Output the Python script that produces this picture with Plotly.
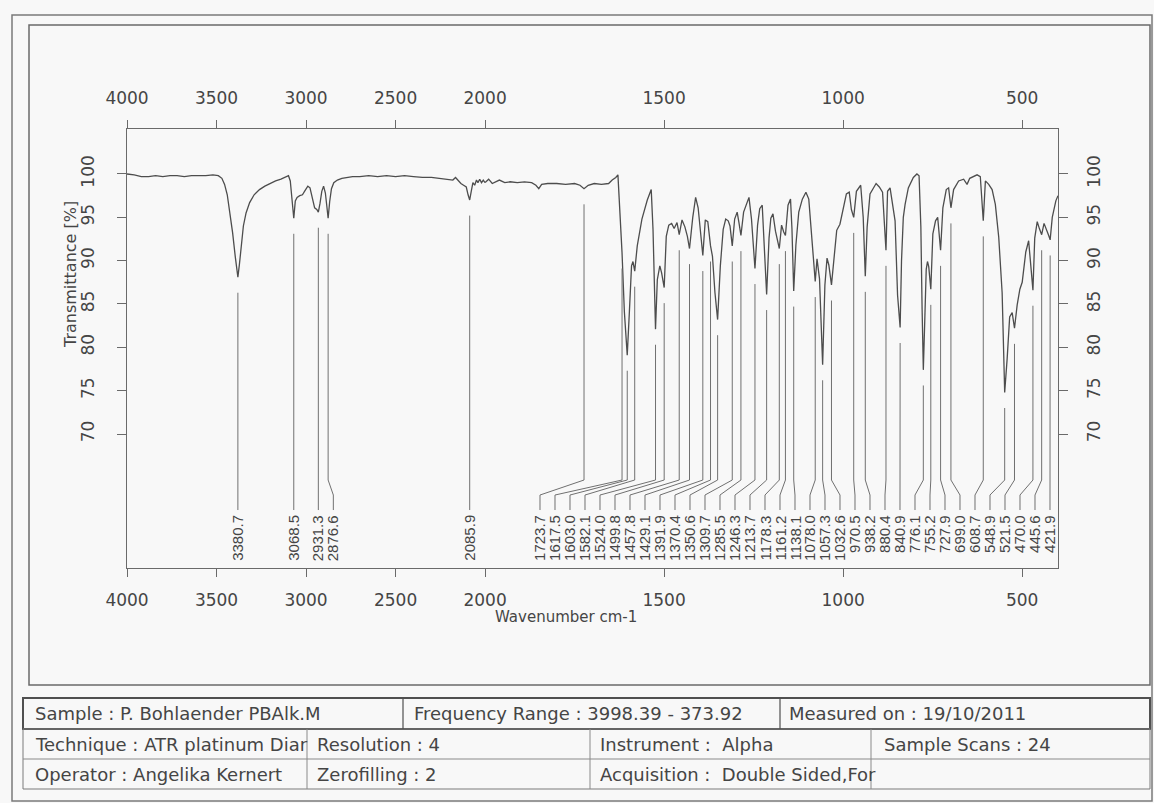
import plotly.graph_objects as go

# ---------------- data ----------------
wavenumber = [
    4000, 3960, 3920, 3880, 3840, 3800, 3760, 3720, 3680, 3640, 3600, 3560, 3520, 3490,
    3470, 3455, 3440, 3425, 3410, 3395, 3380.7, 3372, 3362, 3350, 3335, 3315, 3290, 3260,
    3230, 3200, 3170, 3140, 3115, 3098, 3088, 3078, 3068.5, 3060, 3050, 3035, 3020, 3005,
    2990, 2978, 2965, 2952, 2940, 2931.3, 2922, 2912, 2902, 2892, 2884, 2876.6, 2868, 2858,
    2845, 2825, 2800, 2770, 2740, 2700, 2650, 2600, 2550, 2500, 2450, 2400, 2350, 2300,
    2260, 2230, 2200, 2180, 2165, 2150, 2135, 2120, 2105, 2095, 2085.9, 2078, 2068, 2058,
    2048, 2040, 2030, 2020, 2010, 2000,
    1990, 1980, 1970, 1960, 1945, 1930, 1910, 1890, 1870, 1858, 1850, 1842, 1825, 1800,
    1775, 1750, 1735, 1723.7, 1712, 1695, 1675, 1655, 1645, 1635, 1629, 1624, 1617.5, 1611,
    1603.0, 1597, 1591, 1587, 1582.1, 1575, 1562, 1547, 1536, 1531, 1524.0, 1519, 1512, 1507,
    1499.8, 1494, 1487, 1479, 1472, 1464, 1457.8, 1450, 1442, 1435, 1429.1, 1420, 1412, 1405,
    1399, 1391.9, 1385, 1378, 1370.4, 1365, 1358, 1350.6, 1343, 1335, 1328, 1321, 1316, 1309.7,
    1303, 1296, 1291, 1285.5, 1278, 1271, 1263, 1256, 1246.3, 1239, 1233, 1226, 1220, 1213.7,
    1207, 1202, 1196, 1189, 1178.3, 1172, 1166, 1161.2, 1154, 1147, 1143, 1138.1, 1132, 1124,
    1114, 1104, 1096, 1090, 1084, 1078.0, 1073, 1066, 1057.3, 1051, 1045, 1040, 1032.6, 1025,
    1018, 1009, 1000, 991, 983, 977, 970.5, 963, 951, 944, 938.2, 933, 925, 908,
    899, 890, 880.4, 876, 869, 861, 855, 848, 840.9, 837, 832, 827, 818, 804,
    794, 788, 783, 779.5, 776.1, 772.5, 768, 764.5, 761, 755.2, 749.5, 742, 736, 727.9,
    721.5, 712, 705.5, 699.0, 691.5, 677.5, 663.5, 654, 646.5, 626, 617, 608.7, 602.8, 593.5,
    584, 575, 565.5, 556, 548.9, 542, 535, 528, 521.5, 514, 506.5, 500, 490, 482,
    476, 470.0, 465, 458, 452, 445.6, 439, 432, 426, 421.9, 416, 406, 400,
]
transmittance = [
    100.0, 99.9, 99.7, 99.7, 99.8, 99.7, 99.8, 99.8, 99.7, 99.8, 99.8, 99.8, 99.9, 99.8,
    99.5, 98.8, 97.6, 95.6, 93.2, 90.4, 88.1, 89.6, 92.0, 94.0, 95.5, 96.7, 97.6, 98.2,
    98.6, 98.9, 99.2, 99.4, 99.6, 99.8, 99.2, 97.2, 94.9, 96.9, 97.3, 97.5, 97.6, 98.1,
    98.6, 98.4, 97.3, 96.1, 95.9, 95.6, 96.6, 98.0, 98.6, 97.8, 96.3, 94.9, 96.8, 98.3,
    99.0, 99.3, 99.5, 99.6, 99.7, 99.7, 99.8, 99.7, 99.8, 99.7, 99.8, 99.7, 99.6, 99.6,
    99.5, 99.4, 99.4, 99.3, 99.6, 99.2, 98.9, 98.7, 98.5, 97.6, 97.0, 97.9, 99.0, 98.7,
    99.3, 99.0, 99.4, 99.0, 99.3, 99.0,
    99.4, 98.9, 99.1, 99.3, 99.0, 99.1, 99.0, 99.1, 99.0, 98.7, 98.3, 98.8, 98.9, 98.9,
    98.8, 98.9, 98.7, 98.3, 98.7, 98.9, 98.8, 98.9, 99.3, 99.6, 99.9, 96.3, 90.9, 84.1,
    79.1, 84.1, 89.4, 89.9, 88.8, 91.7, 94.8, 97.0, 98.2, 93.6, 82.1, 87.8, 89.4, 88.6,
    86.9, 92.8, 94.1, 94.3, 93.7, 94.4, 93.0, 94.7, 93.9, 92.8, 91.4, 95.0, 97.3, 96.1,
    93.5, 90.6, 94.7, 94.5, 91.7, 90.5, 86.3, 83.2, 89.4, 93.6, 94.8, 94.6, 94.0, 91.7,
    94.8, 95.6, 94.4, 92.9, 95.6, 96.3, 97.3, 94.8, 89.1, 94.1, 96.0, 96.4, 91.0, 86.1,
    92.6, 94.9, 95.4, 93.4, 91.4, 94.1, 93.3, 92.9, 96.4, 97.1, 93.7, 86.5, 91.8, 95.6,
    97.1, 97.9, 97.1, 93.7, 91.0, 87.6, 90.2, 87.9, 78.0, 87.2, 90.3, 89.5, 87.2, 91.0,
    93.5, 94.2, 95.8, 97.7, 97.9, 95.9, 95.0, 98.0, 98.7, 95.0, 88.2, 93.9, 97.7, 98.9,
    98.5, 97.9, 91.2, 98.0, 98.4, 96.5, 94.6, 86.0, 82.3, 90.0, 95.0, 96.5, 98.4, 99.6,
    100.0, 99.8, 93.9, 84.4, 77.4, 82.5, 89.0, 89.9, 89.3, 86.7, 93.1, 94.6, 95.0, 91.2,
    96.1, 98.2, 98.4, 96.1, 98.2, 99.2, 99.4, 98.8, 99.5, 99.9, 99.7, 94.6, 99.2, 98.8,
    98.2, 96.5, 92.7, 86.3, 74.8, 78.7, 83.5, 84.0, 82.2, 84.9, 86.7, 87.5, 91.0, 92.3,
    89.5, 86.6, 92.6, 94.5, 93.7, 93.0, 94.3, 93.4, 92.9, 92.4, 95.0, 96.9, 97.5,
]
peaks = [
    3380.7, 3068.5, 2931.3, 2876.6, 2085.9, 1723.7, 1617.5, 1603.0, 1582.1, 1524.0,
    1499.8, 1457.8, 1429.1, 1391.9, 1370.4, 1350.6, 1309.7, 1285.5, 1246.3, 1213.7,
    1178.3, 1161.2, 1138.1, 1078.0, 1057.3, 1032.6, 970.5, 938.2, 880.4, 840.9,
    776.1, 755.2, 727.9, 699.0, 608.7, 548.9, 521.5, 470.0, 445.6, 421.9,
]
x_ticks_high = [4000, 3500, 3000, 2500, 2000]
x_ticks_low = [1500, 1000, 500]
y_ticks = [70, 75, 80, 85, 90, 95, 100]

table_rows = [
    [("Sample : P. Bohlaender PBAlk.M", 33), ("Frequency Range : 3998.39 - 373.92", 412),
     ("Measured on : 19/10/2011", 787)],
    [("Technique : ATR platinum Diar", 33), ("Resolution : 4", 315),
     ("Instrument :  Alpha", 598), ("Sample Scans : 24", 882)],
    [("Operator : Angelika Kernert", 33), ("Zerofilling : 2", 315),
     ("Acquisition :  Double Sided,For", 598)],
]

# ---------------- layout constants ----------------
W, H = 1154, 803
PL, PR, PT, PB = 127, 1058, 129, 568          # plot area in pixels
XMAX, XBREAK, XMIN = 4000, 2000, 400
HIGH_COMPRESS = 2.0                          # region above 2000 drawn at half scale
YMIN, YMAX = 54.54, 105.19
span_hi = (XMAX - XBREAK) / HIGH_COMPRESS
span_lo = XBREAK - XMIN
f_break = span_hi / (span_hi + span_lo)
px_per_u = (PR - PL) / (span_hi + span_lo)

LINE = "#4d4d4d"
AX = "#6a6a6a"
TXT = "#454545"
BG = "#f8f8f8"
FONT = "DejaVu Sans"


def px2paper_x(px):
    return (px - PL) / (PR - PL)


def px2paper_y(py):
    return (PB - py) / (PB - PT)


def u_of(w):
    return (XMAX - w) / HIGH_COMPRESS if w >= XBREAK else span_hi + (XBREAK - w)


def w_of(u):
    return XMAX - HIGH_COMPRESS * u if u <= span_hi else XBREAK - (u - span_hi)


# ---------------- traces ----------------
fig = go.Figure()
hi = [(w, t) for w, t in zip(wavenumber, transmittance) if w >= XBREAK]
lo = [(w, t) for w, t in zip(wavenumber, transmittance) if w <= XBREAK]
for pts, xa in ((hi, "x"), (lo, "x2")):
    fig.add_trace(go.Scatter(x=[p[0] for p in pts], y=[p[1] for p in pts], xaxis=xa, yaxis="y",
                             mode="lines", line=dict(color=LINE, width=1.3),
                             showlegend=False, hoverinfo="skip"))

# peak label layout: push right, then clamp to right bound
spacing_u = 15 / px_per_u
right_bound_u = (span_hi + span_lo) - 8 / px_per_u
u_true = [u_of(p) for p in peaks]
pos = []
for u in u_true:
    pos.append(u if not pos else max(u, pos[-1] + spacing_u))
pos[-1] = min(pos[-1], right_bound_u)
for i in range(len(pos) - 2, -1, -1):
    pos[i] = min(pos[i], pos[i + 1] - spacing_u)

T_at = dict(zip(wavenumber, transmittance))
GAP = 1.8
Y_A, Y_B, Y_C, Y_TXT = 64.69, 62.96, 61.23, 60.89

conn = {"x": ([], []), "x2": ([], [])}
annotations = []
for p, u_lab in zip(peaks, pos):
    xa = "x" if p >= XBREAK else "x2"
    w_lab = w_of(u_lab)
    xs, ys = conn[xa]
    xs += [p, p, w_lab, w_lab, None]
    ys += [T_at[p] - GAP, Y_A, Y_B, Y_C, None]
    annotations.append(dict(x=w_lab, y=Y_TXT, xref=xa, yref="y", text=f"{p:.1f}",
                            textangle=-90, showarrow=False, xanchor="center", yanchor="top",
                            font=dict(family="Liberation Sans", size=15, color=TXT)))
for xa, (xs, ys) in conn.items():
    fig.add_trace(go.Scatter(x=xs, y=ys, xaxis=xa, yaxis="y", mode="lines",
                             line=dict(color="#707070", width=1),
                             showlegend=False, hoverinfo="skip"))

# dummy traces so the mirrored axes are drawn
for xa, ya in (("x3", "y"), ("x4", "y"), ("x2", "y2")):
    fig.add_trace(go.Scatter(x=[None], y=[None], xaxis=xa, yaxis=ya, mode="lines",
                             showlegend=False, hoverinfo="skip"))

# ---------------- axes ----------------
common = dict(showline=True, linecolor=AX, linewidth=1, ticks="outside", ticklen=8,
              tickcolor=AX, tickwidth=1, showgrid=False, zeroline=False,
              tickfont=dict(family=FONT, size=17, color=TXT), ticklabelstandoff=9)

layout_axes = dict(
    xaxis=dict(domain=[0, f_break], range=[XMAX, XBREAK], tickvals=x_ticks_high, anchor="y", **common),
    xaxis2=dict(domain=[f_break, 1], range=[XBREAK, XMIN], tickvals=x_ticks_low, anchor="y", **common),
    xaxis3=dict(domain=[0, f_break], range=[XMAX, XBREAK], tickvals=x_ticks_high, anchor="y",
                overlaying="x", side="top", **common),
    xaxis4=dict(domain=[f_break, 1], range=[XBREAK, XMIN], tickvals=x_ticks_low, anchor="y",
                overlaying="x2", side="top", **common),
    yaxis=dict(domain=[0, 1], range=[YMIN, YMAX], tickvals=y_ticks, tickangle=-90, anchor="x",
               **{**common, "ticklen": 9, "ticklabelstandoff": 16}),
    yaxis2=dict(range=[YMIN, YMAX], tickvals=y_ticks, tickangle=-90, anchor="x2",
                overlaying="y", side="right", **{**common, "ticklen": 9, "ticklabelstandoff": 12}),
)

# ---------------- frames and info table ----------------
shapes = []


def rect(x0, y0, x1, y1, color, width):
    shapes.append(dict(type="rect", xref="paper", yref="paper", x0=px2paper_x(x0), x1=px2paper_x(x1),
                       y0=px2paper_y(y0), y1=px2paper_y(y1), line=dict(color=color, width=width)))


def seg(x0, y0, x1, y1, color, width):
    shapes.append(dict(type="line", xref="paper", yref="paper", x0=px2paper_x(x0), x1=px2paper_x(x1),
                       y0=px2paper_y(y0), y1=px2paper_y(y1), line=dict(color=color, width=width)))


rect(12, 15, 1152, 801, "#7a7a7a", 1.5)
rect(29, 25, 1150, 685, "#6a6a6a", 1.5)
row_y = [698, 729, 759, 789]
rect(23, row_y[0], 1150, row_y[1], "#505050", 2)
rect(23, row_y[1], 1150, row_y[3], "#7a7a7a", 1)
seg(23, row_y[2], 1150, row_y[2], "#8a8a8a", 1)
for xd in (403, 780):
    seg(xd, row_y[0], xd, row_y[1], "#505050", 1.2)
for xd in (307, 590, 871):
    seg(xd, row_y[1], xd, row_y[3], "#8a8a8a", 1)

for r, cells in enumerate(table_rows):
    yc = (row_y[r] + row_y[r + 1]) / 2
    for text, xl in cells:
        annotations.append(dict(x=px2paper_x(xl), y=px2paper_y(yc), xref="paper", yref="paper",
                                text=text, showarrow=False, xanchor="left", yanchor="middle",
                                font=dict(family=FONT, size=18, color=TXT)))

annotations.append(dict(x=px2paper_x(70), y=px2paper_y(275), xref="paper", yref="paper",
                        text="Transmittance [%]", textangle=-90, showarrow=False,
                        xanchor="center", yanchor="middle", font=dict(family=FONT, size=16, color=TXT)))
annotations.append(dict(x=px2paper_x(566), y=px2paper_y(617), xref="paper", yref="paper",
                        text="Wavenumber cm-1", showarrow=False,
                        xanchor="center", yanchor="middle", font=dict(family=FONT, size=15, color=TXT)))

fig.update_layout(width=W, height=H, margin=dict(l=PL, r=W - PR, t=PT, b=H - PB, pad=0),
                  paper_bgcolor=BG, plot_bgcolor=BG, showlegend=False,
                  font=dict(family=FONT, color=TXT), shapes=shapes, annotations=annotations,
                  **layout_axes)

fig.write_html("out.html")
